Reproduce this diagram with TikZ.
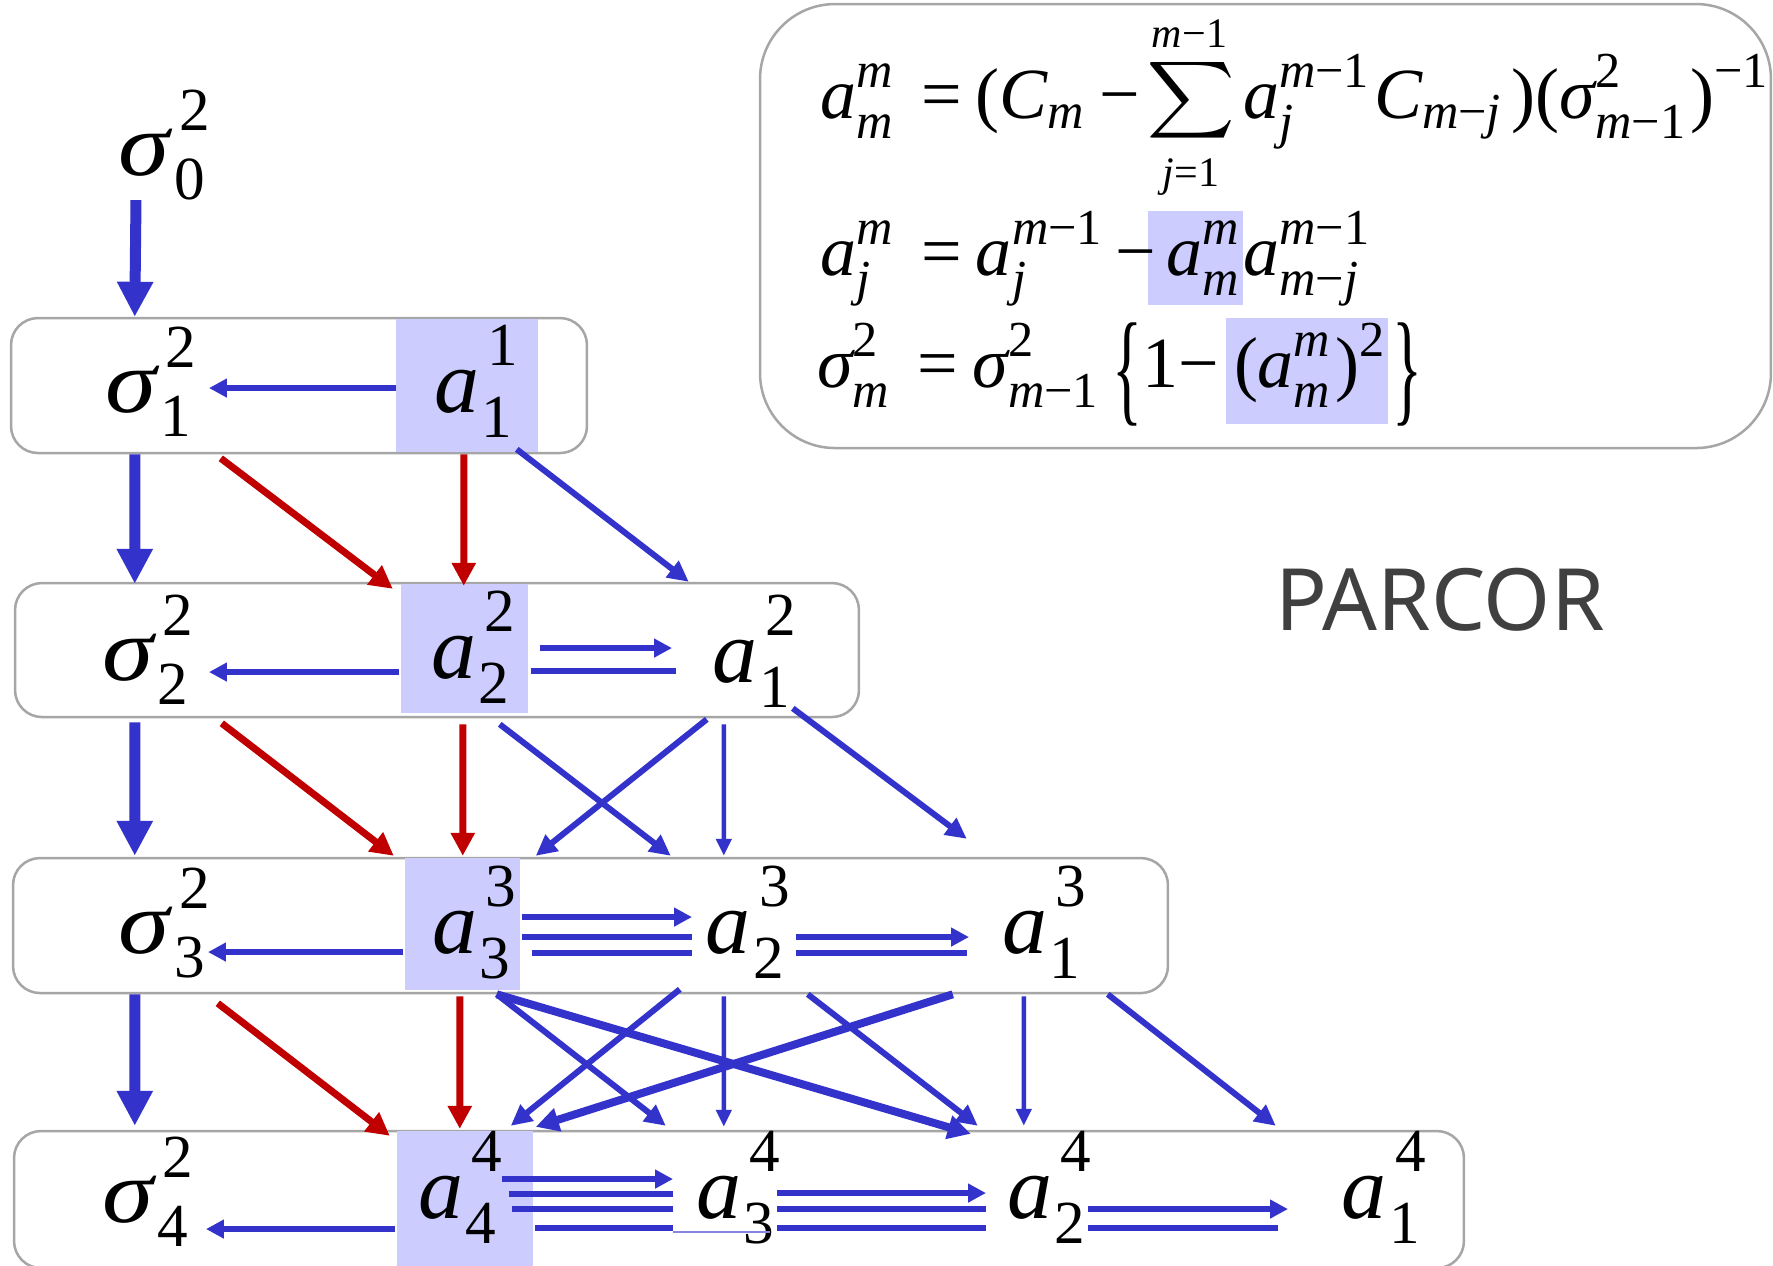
\documentclass[tikz,border=0pt]{standalone}
\usepackage{amsmath}
\usepackage{graphicx}
\usepackage{fontspec}
\setmainfont{Liberation Serif}
\newfontfamily\parcorfont{Noto Sans}
\usetikzlibrary{arrows.meta,calc}
\definecolor{pblue}{RGB}{51,51,204}
\definecolor{pred}{RGB}{192,0,0}
\definecolor{hl}{RGB}{204,204,255}
\definecolor{bordergray}{RGB}{166,166,166}
\definecolor{txtgray}{RGB}{64,64,64}
\newdimen\scrdim
\newdimen\pxu \pxu=0.1pt
\makeatletter
\newcommand\scr{\scrdim=\f@size\p@ \scrdim=0.68\scrdim \fontsize{\strip@pt\scrdim}{\strip@pt\scrdim}\selectfont}
\makeatother
% base with stacked superscript and subscript
\newcommand\SSn[3]{\textit{#1}\rlap{\kern0.09em\raisebox{0.52em}{\scr #2}}\kern0.03em\raisebox{-0.28em}{\scr #3}}
\newcommand\SSg[2]{\scalebox{1.15}[1]{\textit{σ}}\rlap{\kern0.07em\raisebox{0.50em}{\scr #1}}\kern0.01em\raisebox{-0.27em}{\scr #2}}
\newcommand\I[1]{\text{\itshape #1}}
\newcommand\hs[1]{\hspace{#1\pxu}}
\newcommand\lowbrace[1]{\raisebox{-22\pxu}{\scalebox{0.5}[1]{\fontsize{12.5}{12.5}\selectfont #1}}}
\tikzset{
  rowbox/.style={draw=bordergray, line width=0.25pt, rounded corners=2.7pt, fill=white, inner sep=0pt},
  hlbox/.style={fill=hl, draw=none, inner sep=0pt},
  sym/.style={anchor=base west, inner sep=0pt, font=\fontsize{9}{10}\selectfont},
  form/.style={anchor=base west, inner sep=0pt, font=\fontsize{7.2}{8}\selectfont},
  limit/.style={anchor=base, inner sep=0pt, font=\fontsize{4.2}{5}\selectfont},
  sigarrow/.style={draw=pblue, line width=1.1pt, -{Triangle[length=3.5pt,width=3.4pt]}},
  redarrow/.style={draw=pred, line width=0.7pt, -{Triangle[length=2.3pt,width=2.3pt]}},
  bluearrow/.style={draw=pblue, line width=0.6pt, -{Triangle[length=2.1pt,width=2pt]}},
  thinarrow/.style={draw=pblue, line width=0.45pt, -{Triangle[length=1.7pt,width=1.5pt]}},
  boldarrow/.style={draw=pblue, line width=0.8pt, -{Triangle[length=2.3pt,width=2.3pt]}},
  hzarrow/.style={draw=pblue, line width=0.6pt, -{Triangle[length=1.8pt,width=1.8pt]}},
  hzline/.style={draw=pblue, line width=0.6pt},
}
\begin{document}
\begin{tikzpicture}[x=0.1pt, y=-0.1pt]
\useasboundingbox (0,0) rectangle (1773,1265);

% ---------- formula box ----------
\node[draw=bordergray, line width=0.25pt, rounded corners=7.5pt, minimum width=101.1pt, minimum height=44.4pt, inner sep=0pt] (fb) at (1265.5,226) {};
\node[hlbox, minimum width=9.5pt, minimum height=9.4pt] (hf1) at (1195.5,258) {};
\node[hlbox, minimum width=16.2pt, minimum height=10.6pt] (hf2) at (1307,371) {};
% line 1
\node[form] (f1a) at (818,118) {$\I{a}^{\I{m}}_{\I{m}}\hs{24}\text{=}\hs{14}\text{(}\I{C}_{\I{m}}\hs{10}\text{−}$};
\node[form, anchor=center] (fsum) at (1191.5,100) {\scalebox{0.76}[0.75]{$\displaystyle\sum$}};
\node[limit] (fup) at (1189.5,47) {\textit{m}−1};
\node[limit] (flo) at (1191,186) {\textit{j}=1};
\node[form] (f1b) at (1241,118) {$\I{a}^{\I{m}\text{−1}}_{\I{j}}\I{C}_{\I{m}\text{−}\I{j}}\hs{6}\text{)(}\I{σ}^{\text{2}}_{\I{m}\text{−1}}\text{)}^{\text{−1}}$};
% line 2
\node[form] (f2a) at (818,275) {$\I{a}^{\I{m}}_{\I{j}}\hs{24}\text{=}\hs{14}\I{a}^{\I{m}\text{−1}}_{\I{j}}\hs{8}\text{−}$};
\node[form] (f2b) at (1164,275) {$\I{a}^{\I{m}}_{\I{m}}\I{a}^{\I{m}\text{−1}}_{\I{m}\text{−}\I{j}}$};
% line 3
\node[form] (f3a) at (815,387) {$\I{σ}^{\text{2}}_{\I{m}}\hs{24}\text{=}\hs{14}\I{σ}^{\text{2}}_{\I{m}\text{−1}}$};
\node[form] (f3b) at (1110,387) {\lowbrace{\{}1−};
\node[form] (f3c) at (1232,387) {$\text{(}\I{a}^{\I{m}}_{\I{m}}\text{)}^{\text{2}}$};
\node[form] (f3d) at (1390,387) {\lowbrace{\}}};

\node[anchor=base west, inner sep=0pt, font=\parcorfont\fontsize{8.6}{10}\selectfont, text=txtgray] (parcor) at (1273,630) {PARCOR};

% ---------- row boxes ----------
\node[rowbox, minimum width=57.6pt, minimum height=13.5pt] (r1) at (299,385.5) {};
\node[rowbox, minimum width=84.4pt, minimum height=13.4pt] (r2) at (437,650) {};
\node[rowbox, minimum width=115.5pt, minimum height=13.5pt] (r3) at (590.5,925.5) {};
\node[rowbox, minimum width=145pt, minimum height=13.7pt] (r4) at (739,1199.5) {};

% ---------- highlights ----------
\node[hlbox, minimum width=14.2pt, minimum height=13.3pt] (h1) at (467,385.5) {};
\node[hlbox, minimum width=12.7pt, minimum height=12.9pt] (h2) at (464.5,648.5) {};
\node[hlbox, minimum width=11.5pt, minimum height=13.2pt] (h3) at (462.5,924) {};
\node[hlbox, minimum width=13.6pt, minimum height=13.5pt] (h4) at (465,1198.5) {};

% ---------- symbols ----------
\node[sym] (s0) at (117,175) {\SSg{2}{0}};
\node[sym] (s1) at (103,412) {\SSg{2}{1}};
\node[sym] (a11) at (432,412) {\SSn{a}{1}{1}};
\node[sym] (s2) at (100,680) {\SSg{2}{2}};
\node[sym] (a22) at (429,678) {\SSn{a}{2}{2}};
\node[sym] (a12) at (710,682) {\SSn{a}{2}{1}};
\node[sym] (s3) at (117,953) {\SSg{2}{3}};
\node[sym] (a33) at (430,953) {\SSn{a}{3}{3}};
\node[sym] (a23) at (704,953) {\SSn{a}{3}{2}};
\node[sym] (a13) at (1000,953) {\SSn{a}{3}{1}};
\node[sym] (s4) at (100,1222) {\SSg{2}{4}};
\node[sym] (a44) at (416,1218) {\SSn{a}{4}{4}};
\node[sym] (a34) at (694,1218) {\SSn{a}{4}{3}};
\node[sym] (a24) at (1005,1218) {\SSn{a}{4}{2}};
\node[sym] (a14) at (1340,1218) {\SSn{a}{4}{1}};

% ---------- row 0 -> 1 ----------
\draw[sigarrow] ($(s0.base west)+(19,25)$) -- ($(r1.north west)+(125,0)$);
% row 1
\draw[hzarrow] ($(h1.west)+(2,2.5)$) -- ($(s1.base west)+(106,-24)$);

% ---------- row 1 -> 2 ----------
\draw[sigarrow] ($(r1.south west)+(125,0)$) -- ($(r2.north west)+(121,2)$);
\draw[redarrow] ($(r1.south west)+(211,4)$) -- ($(r2.north west)+(379,7)$);
\draw[redarrow] ($(r1.south west)+(454,0)$) -- ($(r2.north west)+(450,4)$);
\draw[bluearrow] ($(r1.south west)+(507,-5)$) -- ($(r2.north west)+(675,0)$);

% row 2
\draw[hzarrow] ($(h2.west)+(0,23.5)$) -- ($(s2.base west)+(109,-8)$);
\draw[hzarrow] ($(h2.east)+(10,-0.5)$) -- ($(a12.base west)+(-38,-34)$);
\draw[hzline] ($(h2.east)+(1,22.5)$) -- ($(a12.base west)+(-34,-11)$);

% ---------- row 2 -> 3 ----------
\draw[sigarrow] ($(r2.south west)+(121,4)$) -- ($(r3.north west)+(123,-1)$);
\draw[redarrow] ($(r2.south west)+(208,5)$) -- ($(r3.north west)+(382,-1)$);
\draw[redarrow] ($(r2.south west)+(449,6)$) -- ($(r3.north west)+(451,-1)$);
\draw[bluearrow] ($(r2.south west)+(486,6)$) -- ($(r3.north west)+(659,-1)$);
\draw[bluearrow] ($(r2.south west)+(693,1)$) -- ($(r3.north west)+(524,-1)$);
\draw[thinarrow] ($(r2.south west)+(710,6)$) -- ($(r3.north west)+(712,-1)$);
\draw[bluearrow] ($(r2.south west)+(779,-10)$) -- ($(r3.north west)+(955,-18)$);

% row 3
\draw[hzarrow] ($(h3.west)+(0,28)$) -- ($(s3.base west)+(91,-1)$);
\draw[hzarrow] ($(h3.east)+(0,-7)$) -- ($(a23.base west)+(-12,-36)$);
\draw[hzline] ($(h3.east)+(0,13)$) -- ($(a23.base west)+(-12,-16)$);
\draw[hzline] ($(h3.east)+(10,29)$) -- ($(a23.base west)+(-12,0)$);
\draw[hzarrow] ($(a23.base west)+(92,-16)$) -- ($(a13.base west)+(-31,-16)$);
\draw[hzline] ($(a23.base west)+(92,0)$) -- ($(a13.base west)+(-33,0)$);

% ---------- row 3 -> 4 ----------
\draw[sigarrow] ($(r3.south west)+(123,0)$) -- ($(r4.north west)+(122,-4)$);
\draw[redarrow] ($(r3.south west)+(206,9)$) -- ($(r4.north west)+(377,6)$);
\draw[redarrow] ($(r3.south west)+(448,2)$) -- ($(r4.north west)+(447,-1)$);
\draw[bluearrow] ($(r3.south west)+(485,0)$) -- ($(r4.north west)+(653,-4)$);
\draw[boldarrow] ($(r3.south west)+(485,0)$) -- ($(r4.north west)+(958,4)$);
\draw[bluearrow] ($(r3.south west)+(668,-5)$) -- ($(r4.north west)+(498,-4)$);
\draw[thinarrow] ($(r3.south west)+(712,2)$) -- ($(r4.north west)+(711,-3)$);
\draw[bluearrow] ($(r3.south west)+(796,0)$) -- ($(r4.north west)+(965,-4)$);
\draw[boldarrow] ($(r3.south west)+(941,0)$) -- ($(r4.north west)+(523,-3)$);
\draw[thinarrow] ($(r3.south west)+(1012,2)$) -- ($(r4.north west)+(1011,-4)$);
\draw[bluearrow] ($(r3.south west)+(1096,0)$) -- ($(r4.north west)+(1263,-4)$);

% row 4
\draw[hzarrow] ($(h4.west)+(0,30.5)$) -- ($(s4.base west)+(106,7)$);
\draw[hzarrow] ($(h4.east)+(-33,-19.5)$) -- ($(a34.base west)+(-21,-39)$);
\draw[hzline] ($(h4.east)+(-26,-4.5)$) -- ($(a34.base west)+(-21,-24)$);
\draw[hzline] ($(h4.east)+(-23,10.5)$) -- ($(a34.base west)+(-21,-9)$);
\draw[hzline] ($(h4.east)+(0,29.5)$) -- ($(a34.base west)+(-21,10)$);
\draw[draw=pblue!60, line width=0.12pt] ($(a34.base west)+(-21,14)$) -- ($(a34.base west)+(76,14)$);
\draw[hzarrow] ($(a34.base west)+(83,-25)$) -- ($(a24.base west)+(-19,-25)$);
\draw[hzline] ($(a34.base west)+(83,-9)$) -- ($(a24.base west)+(-19,-9)$);
\draw[hzline] ($(a34.base west)+(83,10)$) -- ($(a24.base west)+(-19,10)$);
\draw[hzarrow] ($(a24.base west)+(83,-9)$) -- ($(a14.base west)+(-52,-9)$);
\draw[hzline] ($(a24.base west)+(83,10)$) -- ($(a14.base west)+(-62,10)$);
\end{tikzpicture}
\end{document}
